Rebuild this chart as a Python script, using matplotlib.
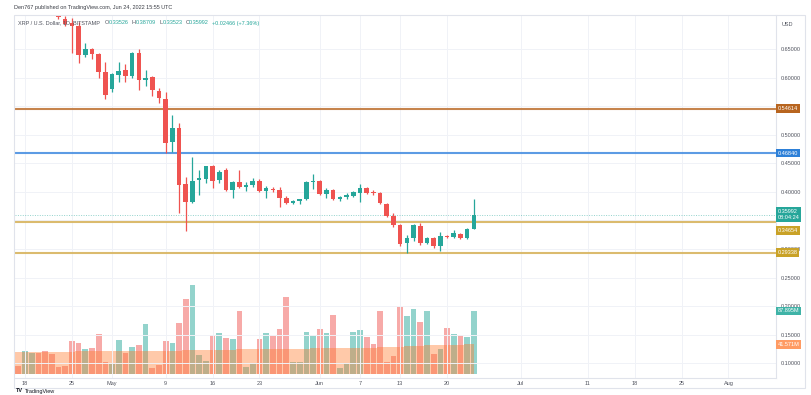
import matplotlib.pyplot as plt
import matplotlib.patches as mpatches
import matplotlib.transforms as mtransforms
import numpy as np
import pandas as pd

plt.rcParams['font.family'] = ['Liberation Sans', 'DejaVu Sans']

# daily XRP/USD candles, Apr 16 .. Jun 24 2022
dates = pd.date_range('2022-04-16', '2022-06-24', freq='D')

opens = [0.775, 0.780, 0.760, 0.765, 0.775, 0.750, 0.735, 0.720, 0.7035, 0.6965,
         0.691, 0.6404, 0.6509, 0.6421, 0.6105,
         0.580, 0.6053, 0.614, 0.6035, 0.6439, 0.5965, 0.6018, 0.5772, 0.5632, 0.4877,
         0.5123, 0.414, 0.3825, 0.4211, 0.4228, 0.4456, 0.4211, 0.4386, 0.4035, 0.4175,
         0.4088, 0.4123, 0.4193, 0.4018, 0.4053, 0.4035, 0.3895, 0.3807, 0.3842, 0.3877,
         0.4175,
         0.4193, 0.3965, 0.4035, 0.3877, 0.3912, 0.3930, 0.3982, 0.4070, 0.4000, 0.3982,
         0.3790, 0.3579, 0.3421, 0.3105, 0.3193, 0.3404, 0.3105, 0.3193, 0.3053, 0.3228,
         0.3211, 0.3263, 0.3193, 0.33526]
highs = [0.785, 0.785, 0.770, 0.780, 0.785, 0.780, 0.745, 0.730, 0.709, 0.705,
         0.699, 0.6614, 0.6526, 0.6439, 0.6281,
         0.609, 0.6281, 0.6246, 0.6456, 0.6509, 0.614, 0.6035, 0.5825, 0.5754, 0.5351,
         0.5211, 0.4263, 0.4614, 0.4386, 0.4456, 0.4474, 0.4386, 0.4421, 0.4193, 0.4386,
         0.4175, 0.4246, 0.4228, 0.4105, 0.4088, 0.4088, 0.3930, 0.3860, 0.3877, 0.4193,
         0.4316,
         0.4211, 0.4070, 0.4053, 0.3930, 0.3982, 0.4018, 0.4140, 0.4088, 0.4035, 0.4000,
         0.3807, 0.3632, 0.3439, 0.3246, 0.3439, 0.3456, 0.3211, 0.3211, 0.3298, 0.3246,
         0.3333, 0.3281, 0.3368, 0.38709]
lows = [0.765, 0.755, 0.725, 0.755, 0.745, 0.730, 0.715, 0.704, 0.692, 0.644,
        0.626, 0.6368, 0.6333, 0.600, 0.5632,
        0.575, 0.5930, 0.593, 0.600, 0.579, 0.586, 0.5684, 0.5561, 0.4684, 0.4702,
        0.3632, 0.3316, 0.3807, 0.3947, 0.4158, 0.4070, 0.4158, 0.4010, 0.3895, 0.4070,
        0.4018, 0.4088, 0.4000, 0.3895, 0.4000, 0.3737, 0.3790, 0.3790, 0.3790, 0.3860,
        0.4053,
        0.3947, 0.3895, 0.3860, 0.3842, 0.3877, 0.3912, 0.3825, 0.3965, 0.3947, 0.3790,
        0.3561, 0.3386, 0.3053, 0.2930, 0.3140, 0.3070, 0.3088, 0.3018, 0.2965, 0.3193,
        0.3193, 0.3175, 0.3175, 0.33523]
closes = [0.780, 0.760, 0.765, 0.775, 0.750, 0.735, 0.720, 0.707, 0.695, 0.691,
          0.640, 0.6509, 0.6421, 0.6105, 0.570,
          0.607, 0.6123, 0.6035, 0.6439, 0.5965, 0.600, 0.579, 0.5649, 0.486, 0.5123,
          0.4123, 0.3825, 0.4193, 0.4246, 0.4456, 0.4193, 0.4351, 0.4035, 0.4175, 0.4088,
          0.4123, 0.4193, 0.4018, 0.4070, 0.4035, 0.3895, 0.3807, 0.3842, 0.3877, 0.4175,
          0.4193,
          0.3965, 0.4035, 0.3877, 0.3912, 0.3947, 0.4000, 0.4070, 0.3982, 0.3982, 0.3807,
          0.3579, 0.3421, 0.3088, 0.3193, 0.3421, 0.3105, 0.3193, 0.3053, 0.3228, 0.3211,
          0.3281, 0.3193, 0.3351, 0.35992]

# volume in millions and its moving average
volumes = [25, 11, 32, 29.7, 29.7, 32.5, 27.9, 9.3, 11, 46, 43.7, 35.3, 36.3, 55.8, 16.3,
           13.5, 47.9, 28.8, 37.2, 40.4, 69.3, 7.9, 12.6, 46.5, 43.7, 70.7, 104.6, 123.7,
           26, 17.7, 54.4, 56.7, 49.8, 48.4, 87.9, 10.2, 14.9, 48.8, 56.7, 53, 62.3, 107.8,
           17.2, 17.2, 58.6, 53.9,
           62.3, 56.7, 81.8, 8.8, 13.5, 58.2, 61, 51.2, 41.8, 87.4, 16.3, 25.5, 93, 81.3,
           90.2, 72.1, 87.4, 27.9, 34.4, 63.7, 55.8, 54, 52, 87.9]
vol_ma = [31.0, 31.0, 31.1, 31.1, 31.1, 31.2, 31.2, 31.2, 31.3, 31.3, 31.4, 31.4, 31.5,
          31.5, 31.6,
          31.6, 31.7, 31.7, 31.8, 31.8, 31.9, 32.0, 32.0, 32.1, 32.3, 32.6, 33.0, 33.4,
          33.5, 33.5, 33.7, 33.8, 34.0, 34.1, 34.3, 34.3, 34.3, 34.4, 34.6, 34.7, 34.9,
          35.3, 35.3, 35.3, 35.5, 35.6,
          35.8, 35.9, 36.2, 36.2, 36.2, 36.4, 36.6, 36.7, 36.8, 37.2, 37.2, 37.3, 37.9,
          38.4, 39.0, 39.5, 40.0, 40.1, 40.2, 40.6, 40.9, 41.1, 41.3, 41.6]

levels = [0.54614, 0.46840, 0.34654, 0.29338]
level_colors = ['#c0773a', '#4a90e2', '#d8b45e', '#d8b45e']
last_price = 0.35992

tick_dates = ['2022-04-18', '2022-04-25', '2022-05-01', '2022-05-09', '2022-05-16',
              '2022-05-23', '2022-06-01', '2022-06-07', '2022-06-13', '2022-06-20',
              '2022-07-01', '2022-07-11', '2022-07-18', '2022-07-25', '2022-08-01']
tick_labels = ['18', '25', 'May', '9', '16', '23', 'Jun', '7', '13', '20',
               'Jul', '11', '18', '25', 'Aug']
price_ticks = [0.10, 0.15, 0.20, 0.25, 0.30, 0.35, 0.40, 0.45, 0.50, 0.55, 0.60, 0.65]
# 0.35 sits fully under the last-price badge
price_labels = ['0.10000', '0.15000', '0.20000', '0.25000', '0.30000', '',
                '0.40000', '0.45000', '0.50000', '0.55000', '0.60000', '0.65000']

UP, DOWN = '#26a69a', '#ef5350'
TXT = '#50535e'

base = pd.Timestamp('2022-04-18')
x = np.array((dates - base).days)
o, h, l, c = map(np.array, (opens, highs, lows, closes))
up = c >= o

W, H = 812, 395
fig = plt.figure(figsize=(W / 100, H / 100), dpi=100)
rect = [15 / W, (H - 378) / H, 761 / W, 363 / H]

# volume pane (own scale, drawn underneath)
ax_vol = fig.add_axes(rect)
ax_vol.bar(x, volumes, width=0.85, color=np.where(up, '#93d3cc', '#f7aaa8'), zorder=2)
ax_vol.fill_between(x, 0, vol_ma, step='mid', color=(1.0, 0.47, 0.16), alpha=0.4,
                    lw=0, zorder=3)
ax_vol.set_ylim(-5.6, 500.7)
ax_vol.axis('off')

# price pane
ax = fig.add_axes(rect, sharex=ax_vol)
ax.patch.set_alpha(0)
ax.set_xlim(-1.49, 112.1)
ax.set_ylim(0.0737, 0.7105)

ax.vlines(x, l, h, colors=np.where(up, UP, DOWN), lw=0.9, zorder=3)
body = c - o
body = np.where(np.abs(body) < 0.0018, np.where(up, 0.0018, -0.0018), body)
ax.bar(x, body, bottom=o, width=0.68, color=np.where(up, UP, DOWN), zorder=4)

for lev, col in zip(levels, level_colors):
    ax.axhline(lev, color=col, lw=1.5, alpha=0.9, zorder=2)
ax.axhline(last_price, color=UP, lw=0.7, ls=(0, (1, 1.5)), alpha=0.5, zorder=2)

ax.set_xticks((pd.to_datetime(tick_dates) - base).days)
ax.set_xticklabels(tick_labels)
ax.set_yticks(price_ticks)
ax.set_yticklabels(price_labels)
ax.yaxis.tick_right()
ax.tick_params(length=0, labelsize=4, colors=TXT)
ax.tick_params(axis='y', pad=3.5)
ax.tick_params(axis='x', pad=2)
ax.grid(color='#f0f2f7', lw=0.7, zorder=0)
ax.set_axisbelow(True)
for side in ['top', 'left']:
    ax.spines[side].set_visible(False)
for side in ['right', 'bottom']:
    ax.spines[side].set_color('#e0e3eb')
    ax.spines[side].set_linewidth(0.8)

# price scale badges
tr_price = mtransforms.blended_transform_factory(ax.transAxes, ax.transData)
tr_vol = mtransforms.blended_transform_factory(ax.transAxes, ax_vol.transData)


def badge(y, label, fc, trans, dy=0, fs=4):
    t = mtransforms.offset_copy(trans, fig=fig, y=dy, units='points')
    ax.text(1.002, y, label, transform=t, fontsize=fs, color='white', va='center',
            ha='left', linespacing=1.3, zorder=10, clip_on=False,
            bbox=dict(boxstyle='square,pad=0.35', fc=fc, ec='none'))


badge(levels[0], '0.54614', '#b8651f', tr_price)
badge(levels[1], '0.46840', '#2d80d8', tr_price)
badge(last_price, '0.35992\n08:04:24', UP, tr_price)
badge(levels[2], '0.34654', '#c9a227', tr_price, dy=-5.5)
badge(levels[3], '0.29338', '#c9a227', tr_price)
badge(87.895, '87.895M', '#3fb3a7', tr_vol)
badge(41.571, '41.571M', '#ff9b63', tr_vol)

ax.text(1.007, 1 - 9 / 363, 'USD', transform=ax.transAxes, fontsize=4, color=TXT,
        va='center', ha='left')

# outer frame of the chart widget
fig.add_artist(mpatches.Rectangle((14 / W, (H - 388) / H), 791 / W, 373 / H,
                                  transform=fig.transFigure, fill=False,
                                  ec='#e0e3eb', lw=0.8))

fig.text(14 / W, 1 - 8 / H, 'Den767 published on TradingView.com, Jun 24, 2022 15:55 UTC',
         fontsize=4, color='#3a3d45', va='center')

renderer = fig.canvas.get_renderer()


def text_row(x0, y0, parts, size):
    xpos = x0
    for s, col, gap in parts:
        t = fig.text(xpos / W, 1 - y0 / H, s, color=col, fontsize=size, va='center')
        xpos += t.get_window_extent(renderer).width + gap


text_row(18, 23, [
    ('XRP / U.S. Dollar, 1D, BITSTAMP', TXT, 5),
    ('O', TXT, 0), ('0.33526', UP, 3),
    ('H', TXT, 0), ('0.38709', UP, 3),
    ('L', TXT, 0), ('0.33523', UP, 3),
    ('C', TXT, 0), ('0.35992', UP, 3),
    ('+0.02466 (+7.36%)', UP, 0),
], 4)

fig.text(16 / W, 1 - 391 / H, 'TV', fontsize=4, fontweight='bold', color='#131722',
         va='center')
fig.text(25 / W, 1 - 391 / H, 'TradingView', fontsize=4, color='#131722', va='center')

fig.savefig('out.png', dpi=100, facecolor='white')
